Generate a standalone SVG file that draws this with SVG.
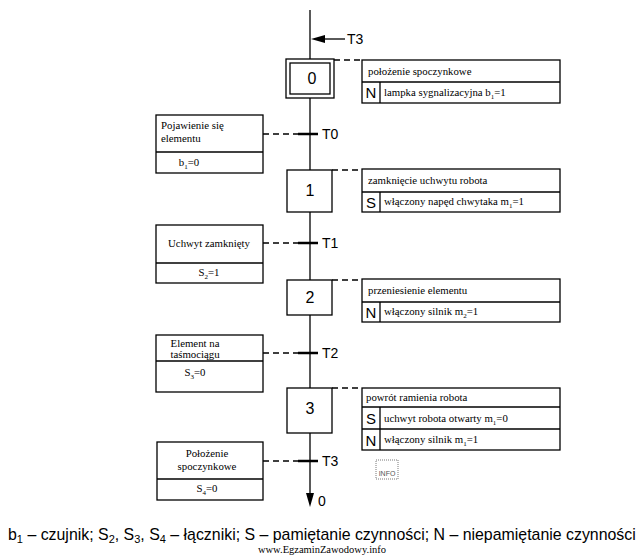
<svg xmlns="http://www.w3.org/2000/svg" width="644" height="557" viewBox="0 0 644 557">
<style>
.ln{stroke:#000;stroke-width:1.3;fill:none}
.box{stroke:#000;stroke-width:1.3;fill:#fff}
.dash{stroke:#000;stroke-width:1.3;stroke-dasharray:6,4;fill:none}
.bar{stroke:#000;stroke-width:2.5}
.st{font-family:"Liberation Sans",Arial,sans-serif;font-size:16px;text-anchor:middle}
.tl{font-family:"Liberation Sans",Arial,sans-serif;font-size:14px}
.sm{font-family:"Liberation Serif","Times New Roman",serif;font-size:10.8px}
.smc{font-family:"Liberation Serif","Times New Roman",serif;font-size:10.8px;text-anchor:middle}
.q{font-family:"Liberation Sans",Arial,sans-serif;font-size:15px;text-anchor:middle}
.cap{font-family:"Liberation Sans",Arial,sans-serif;font-size:15.9px}
</style>
<rect width="644" height="557" fill="#fff"/>
<g id="connectors">
<line class="ln" x1="310" y1="10" x2="310" y2="59"/>
<line class="ln" x1="310" y1="98" x2="310" y2="170"/>
<line class="ln" x1="310" y1="212" x2="310" y2="280"/>
<line class="ln" x1="310" y1="315" x2="310" y2="388"/>
<line class="ln" x1="310" y1="433" x2="310" y2="494"/>
<polygon points="306,493 314,493 310,507" fill="#000"/>
<line class="ln" x1="322" y1="39" x2="345" y2="39"/>
<polygon points="311,39 325,35 325,43" fill="#000"/>
<line class="dash" x1="334" y1="60" x2="362" y2="60"/>
<line class="dash" x1="332" y1="170" x2="362" y2="170"/>
<line class="dash" x1="332" y1="280" x2="362" y2="280"/>
<line class="dash" x1="332" y1="388" x2="362" y2="388"/>
<line class="dash" x1="263" y1="134" x2="300" y2="134"/>
<line class="dash" x1="263" y1="243" x2="300" y2="243"/>
<line class="dash" x1="263" y1="353" x2="300" y2="353"/>
<line class="dash" x1="263" y1="461" x2="300" y2="461"/>
<line class="bar" x1="298" y1="134" x2="318" y2="134"/>
<line class="bar" x1="298" y1="243" x2="318" y2="243"/>
<line class="bar" x1="298" y1="353" x2="318" y2="353"/>
<line class="bar" x1="298" y1="461" x2="318" y2="461"/>
</g>
<g id="labels">
<text class="tl" x="347" y="44">T3</text>
<text class="tl" x="322" y="139">T0</text>
<text class="tl" x="322" y="248">T1</text>
<text class="tl" x="322" y="358">T2</text>
<text class="tl" x="322" y="466">T3</text>
<text class="tl" x="318" y="506">0</text>
</g>
<g id="step0">
<rect class="box" x="286" y="59" width="48" height="39"/>
<rect class="box" x="290" y="63" width="40" height="31"/>
<text class="st" x="312" y="84">0</text>
</g>
<g id="action0">
<rect class="box" x="362" y="60" width="198" height="43"/>
<line class="ln" x1="362" y1="82" x2="560" y2="82"/>
<line class="ln" x1="380" y1="82" x2="380" y2="103"/>
<text class="sm" x="368" y="75">położenie spoczynkowe</text>
<text class="q" x="371" y="98">N</text>
<text class="sm" x="384" y="96">lampka sygnalizacyjna b<tspan font-size="7" dy="3">1</tspan><tspan dy="-3">=1</tspan></text>
</g>
<g id="cond0">
<rect class="box" x="156" y="115" width="107" height="58"/>
<line class="ln" x1="156" y1="152" x2="263" y2="152"/>
<text class="sm" x="161" y="129">Pojawienie się</text>
<text class="sm" x="161" y="142">elementu</text>
<text class="smc" x="189" y="166">b<tspan font-size="7" dy="3">1</tspan><tspan dy="-3">=0</tspan></text>
</g>
<g id="step1">
<rect class="box" x="287" y="170" width="45" height="42"/>
<text class="st" x="310" y="196">1</text>
</g>
<g id="action1">
<rect class="box" x="362" y="169" width="198" height="43"/>
<line class="ln" x1="362" y1="192" x2="560" y2="192"/>
<line class="ln" x1="380" y1="192" x2="380" y2="212"/>
<text class="sm" x="368" y="184">zamknięcie uchwytu robota</text>
<text class="q" x="371" y="208">S</text>
<text class="sm" x="384" y="205">włączony napęd chwytaka m<tspan font-size="7" dy="3">1</tspan><tspan dy="-3">=1</tspan></text>
</g>
<g id="cond1">
<rect class="box" x="156" y="225" width="107" height="58"/>
<line class="ln" x1="156" y1="263" x2="263" y2="263"/>
<text class="smc" x="209" y="247">Uchwyt zamknięty</text>
<text class="smc" x="209" y="276">S<tspan font-size="7" dy="3">2</tspan><tspan dy="-3">=1</tspan></text>
</g>
<g id="step2">
<rect class="box" x="287" y="280" width="45" height="35"/>
<text class="st" x="310" y="303">2</text>
</g>
<g id="action2">
<rect class="box" x="362" y="279" width="198" height="43"/>
<line class="ln" x1="362" y1="302" x2="560" y2="302"/>
<line class="ln" x1="380" y1="302" x2="380" y2="322"/>
<text class="sm" x="368" y="294">przeniesienie elementu</text>
<text class="q" x="371" y="318">N</text>
<text class="sm" x="384" y="315">włączony silnik m<tspan font-size="7" dy="3">2</tspan><tspan dy="-3">=1</tspan></text>
</g>
<g id="cond2">
<rect class="box" x="156" y="335" width="107" height="57"/>
<line class="ln" x1="156" y1="361" x2="263" y2="361"/>
<text class="smc" x="195" y="347">Element na</text>
<text class="smc" x="195" y="358">taśmociągu</text>
<text class="smc" x="195" y="376">S<tspan font-size="7" dy="3">3</tspan><tspan dy="-3">=0</tspan></text>
</g>
<g id="step3">
<rect class="box" x="287" y="388" width="45" height="45"/>
<text class="st" x="310" y="414">3</text>
</g>
<g id="action3">
<rect class="box" x="362" y="388" width="198" height="62"/>
<line class="ln" x1="362" y1="407" x2="560" y2="407"/>
<line class="ln" x1="362" y1="429" x2="560" y2="429"/>
<line class="ln" x1="380" y1="407" x2="380" y2="450"/>
<text class="sm" x="366" y="401">powrót ramienia robota</text>
<text class="q" x="371" y="424">S</text>
<text class="sm" x="384" y="422">uchwyt robota otwarty m<tspan font-size="7" dy="3">1</tspan><tspan dy="-3">=0</tspan></text>
<text class="q" x="371" y="446">N</text>
<text class="sm" x="384" y="443">włączony silnik m<tspan font-size="7" dy="3">1</tspan><tspan dy="-3">=1</tspan></text>
</g>
<g id="cond3">
<rect class="box" x="157" y="442" width="106" height="58"/>
<line class="ln" x1="157" y1="479" x2="263" y2="479"/>
<text class="smc" x="207" y="457">Położenie</text>
<text class="smc" x="207" y="470">spoczynkowe</text>
<text class="smc" x="207" y="492">S<tspan font-size="7" dy="3">4</tspan><tspan dy="-3">=0</tspan></text>
</g>
<g id="stamp">
<rect x="376" y="460" width="22" height="19" fill="none" stroke="#555" stroke-width="0.8" stroke-dasharray="1,1"/>
<text x="387" y="476" font-family="Liberation Sans,Arial,sans-serif" font-size="7" text-anchor="middle" fill="#555">INFO</text>
</g>
<g id="caption">
<text class="cap" x="8" y="540">b<tspan font-size="11" dy="3">1</tspan><tspan dy="-3"> – czujnik; S</tspan><tspan font-size="11" dy="3">2</tspan><tspan dy="-3">, S</tspan><tspan font-size="11" dy="3">3</tspan><tspan dy="-3">, S</tspan><tspan font-size="11" dy="3">4</tspan><tspan dy="-3"> – łączniki; S – pamiętanie czynności; N – niepamiętanie czynności</tspan></text>
<text x="322" y="553" font-family="Liberation Serif,Times New Roman,serif" font-size="10.5" text-anchor="middle">www.EgzaminZawodowy.info</text>
</g>
</svg>
